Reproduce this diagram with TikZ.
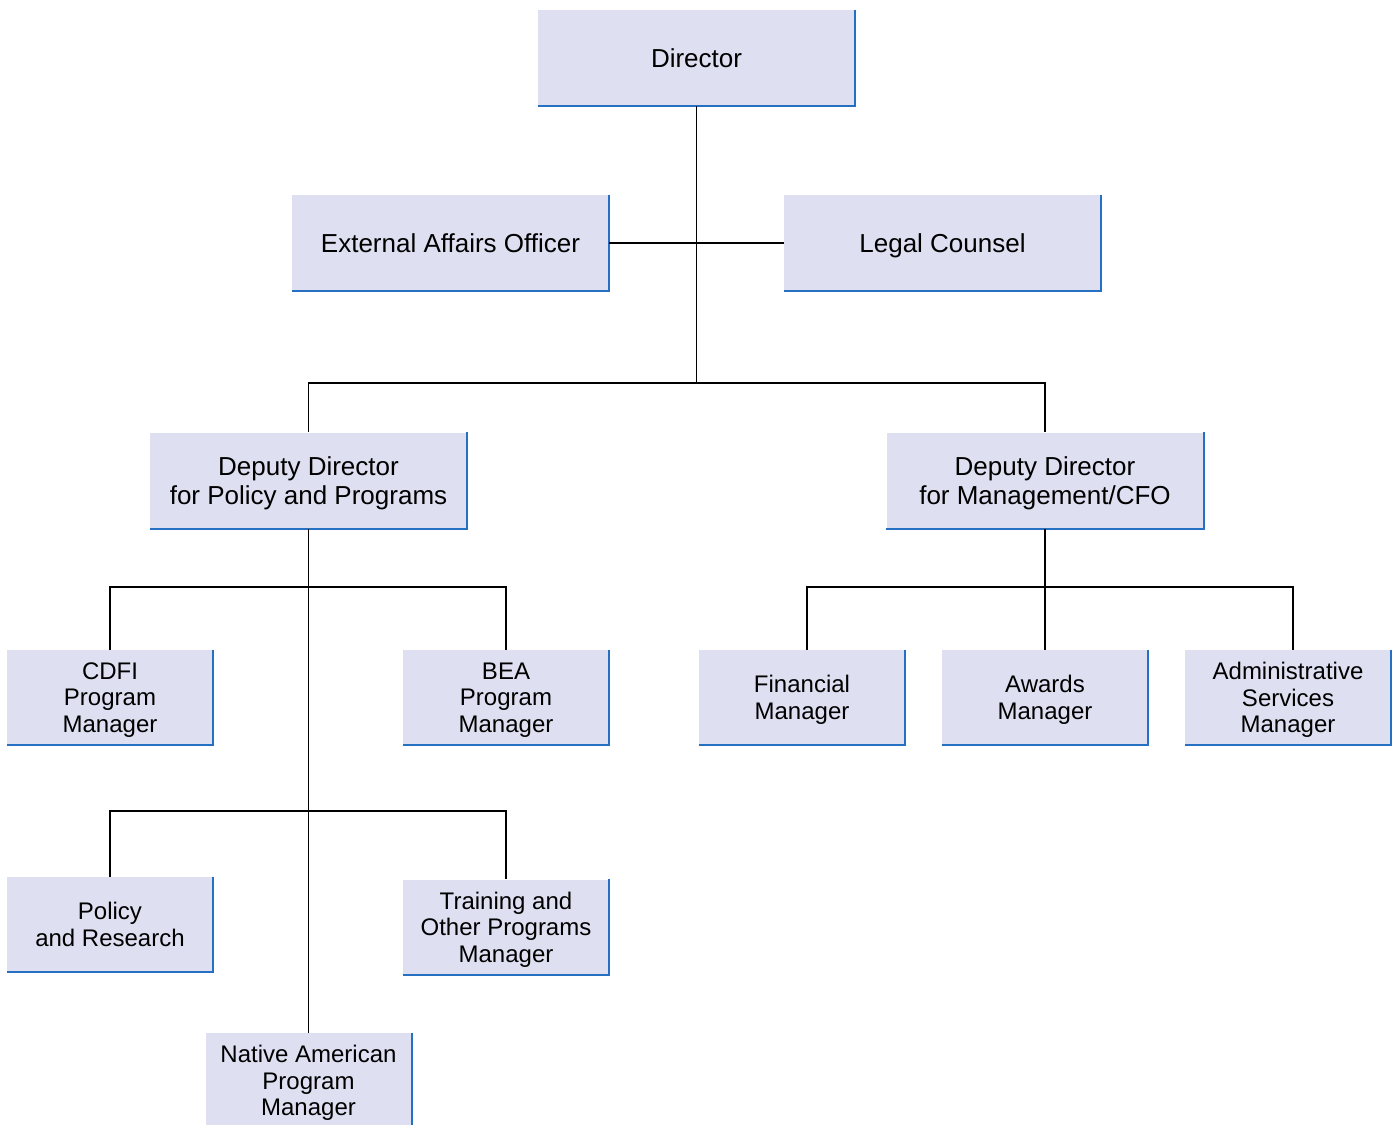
\documentclass[tikz,border=0pt]{standalone}
\usepackage{fontspec}
\setmainfont{Liberation Sans}
\definecolor{boxfill}{RGB}{222,224,241}
\definecolor{boxedge}{RGB}{38,112,196}
\tikzset{
  org box/.style={fill=boxfill,align=center,inner sep=0pt,text depth=0pt,
    minimum width=158.5pt,minimum height=48pt,
    font=\fontsize{13}{14.5}\selectfont},
  org small/.style={org box,minimum width=103pt,minimum height=47.5pt,
    font=\fontsize{12}{13.25}\selectfont},
  org edge/.style={draw=boxedge,line width=1pt},
  org link/.style={draw=black,line width=0.75pt}
}
\begin{document}
\begin{tikzpicture}[x=0.5pt,y=-0.5pt]
    \useasboundingbox (0,0) rectangle (1393,1125);
    \node[org box] (dir) at (696.5,58) {Director};
    \node[org box] (ext) at (450.5,243) {External Affairs Officer};
    \node[org box] (legal) at (942.5,243) {Legal Counsel};
    \node[org box] (ddp) at (308.5,480.5) {Deputy Director\\for Policy and Programs};
    \node[org box] (ddm) at (1045,480.5) {Deputy Director\\for Management/CFO};
    \node[org small] (cdfi) at (110,697.5) {CDFI\\Program\\Manager};
    \node[org small] (bea) at (506,697.5) {BEA\\Program\\Manager};
    \node[org small] (fin) at (802,697.5) {Financial\\Manager};
    \node[org small] (awd) at (1045,697.5) {Awards\\Manager};
    \node[org small] (adm) at (1288,697.5) {Administrative\\Services\\Manager};
    \node[org small] (pol) at (110,924.5) {Policy\\and Research};
    \node[org small] (train) at (506,927) {Training and\\Other Programs\\Manager};
    \node[org small] (nam) at (308.5,1080.5) {Native American\\Program\\Manager};
    \foreach \n in {dir,ext,legal,ddp,ddm,cdfi,bea,fin,awd,adm,pol,train,nam}
      \draw[org edge] (\n.north east) -- (\n.south east) -- (\n.south west);
    \coordinate (hub) at (696.5,383);
    \coordinate (ddp split) at (308.5,587);
    \coordinate (ddp split low) at (308.5,811);
    \coordinate (ddm split) at (1045,587);
    \draw[org link] (dir.south) -- (hub);
    \draw[org link] (ext.east) -- (legal.west);
    \draw[org link] (ddp.north) |- (hub) -| (ddm.north);
    \draw[org link] (ddp.south) -- (nam.north);
    \draw[org link] (cdfi.north) |- (ddp split) -| (bea.north);
    \draw[org link] (pol.north) |- (ddp split low) -| (train.north);
    \draw[org link] (ddm.south) -- (awd.north);
    \draw[org link] ([xshift=2.5pt]fin.north) |- (ddm split) -| ([xshift=2.5pt]adm.north);
  \end{tikzpicture}
\end{document}
